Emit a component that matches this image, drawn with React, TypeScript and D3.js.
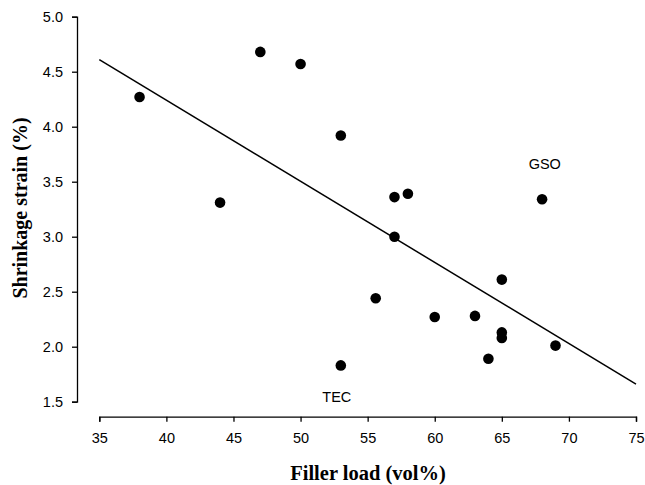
import React, { useRef, useEffect } from 'react';
import * as d3 from 'd3';

// filler load (vol%) and shrinkage strain (%)
const fillerLoad = [38, 44, 47, 50, 53, 53, 55.6, 57, 57, 58, 60, 63, 64, 65, 65, 65, 68, 69];
const shrinkage = [4.27, 3.31, 4.68, 4.57, 3.92, 1.83, 2.44, 3.36, 3.0, 3.39, 2.27, 2.28, 1.89, 2.61, 2.13, 2.08, 3.34, 2.01];

// regression line end points
const fitX = [35, 75];
const fitY = [4.61, 1.66];

const xTicks = [35, 40, 45, 50, 55, 60, 65, 70, 75];
const yTicks = [1.5, 2.0, 2.5, 3.0, 3.5, 4.0, 4.5, 5.0];

const labels = [
  { text: 'TEC', x: 52.7, y: 1.5 },
  { text: 'GSO', x: 68.2, y: 3.615 },
];

const App = () => {
  const svgRef = useRef<SVGSVGElement>(null);

  useEffect(() => {
    const svg = d3.select(svgRef.current);
    svg.selectAll('*').remove();

    const x = d3.scaleLinear().domain([35, 75]).range([99.3, 636]);
    const y = d3.scaleLinear().domain([1.5, 5.0]).range([401.7, 16.7]);

    const sans = 'Arial, "Liberation Sans", sans-serif';
    const serif = '"Times New Roman", "Liberation Serif", serif';

    // y axis
    const yAxis = svg.append('g')
      .attr('transform', 'translate(77,0)')
      .call(d3.axisLeft(y).tickValues(yTicks).tickFormat(d3.format('.1f')).tickSizeOuter(0).tickSize(5).tickPadding(9));
    yAxis.select('.domain').attr('stroke', '#000').attr('stroke-width', 1.3);
    yAxis.selectAll('line').attr('stroke', '#000').attr('stroke-width', 1.3);
    yAxis.selectAll('text').attr('font-family', sans).attr('font-size', 14.5).attr('fill', '#000');

    // x axis
    const xAxis = svg.append('g')
      .attr('transform', 'translate(0,416.7)')
      .call(d3.axisBottom(x).tickValues(xTicks).tickFormat(d3.format('d')).tickSizeOuter(0).tickSize(5).tickPadding(11));
    xAxis.select('.domain').attr('stroke', '#000').attr('stroke-width', 1.3);
    xAxis.selectAll('line').attr('stroke', '#000').attr('stroke-width', 1.3);
    xAxis.selectAll('text').attr('font-family', sans).attr('font-size', 14.5).attr('fill', '#000');

    // axis titles
    svg.append('text')
      .attr('x', 368)
      .attr('y', 480)
      .attr('text-anchor', 'middle')
      .attr('font-family', serif)
      .attr('font-weight', 'bold')
      .attr('font-size', 20.5)
      .text('Filler load (vol%)');

    svg.append('text')
      .attr('transform', 'translate(27,208) rotate(-90)')
      .attr('text-anchor', 'middle')
      .attr('font-family', serif)
      .attr('font-weight', 'bold')
      .attr('font-size', 20)
      .text('Shrinkage strain (%)');

    // fit line
    const line = d3.line<number>()
      .x((d, i) => x(fitX[i]))
      .y(d => y(d));
    svg.append('path')
      .datum(fitY)
      .attr('d', line)
      .attr('fill', 'none')
      .attr('stroke', '#000')
      .attr('stroke-width', 1.5);

    // points
    svg.append('g')
      .selectAll('circle')
      .data(fillerLoad)
      .enter()
      .append('circle')
      .attr('cx', d => x(d))
      .attr('cy', (d, i) => y(shrinkage[i]))
      .attr('r', 5.3)
      .attr('fill', '#000');

    // point labels
    svg.append('g')
      .selectAll('text')
      .data(labels)
      .enter()
      .append('text')
      .attr('x', d => x(d.x))
      .attr('y', d => y(d.y))
      .attr('text-anchor', 'middle')
      .attr('font-family', sans)
      .attr('font-size', 14.5)
      .text(d => d.text);
  }, []);

  return (
    <svg ref={svgRef} width={645} height={485}
      style={{ position: 'absolute', left: 0, top: 0, background: '#fff' }} />
  );
};

export default App;
